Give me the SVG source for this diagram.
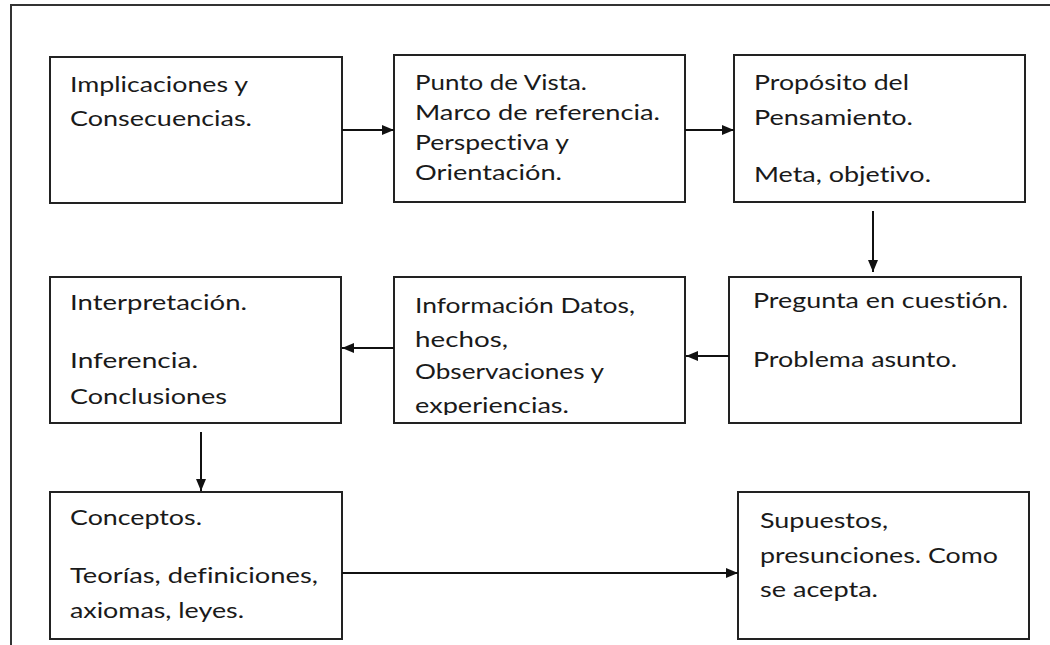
<svg xmlns="http://www.w3.org/2000/svg" width="1050" height="645" viewBox="0 0 1050 645">
<style>
  .box { fill: #ffffff; stroke: #222222; stroke-width: 2; }
  .frame { fill: none; stroke: #333333; stroke-width: 2; }
  .edge { fill: none; stroke: #111111; stroke-width: 2; }
  .t { font-family: Lato, "Liberation Sans", sans-serif; font-size: 20.5px; fill: #1a1a1a; font-variant-ligatures: none; font-feature-settings: "liga" 0, "clig" 0; }
</style>
<defs>
  <marker id="ah" markerUnits="userSpaceOnUse" markerWidth="13" markerHeight="11" refX="12" refY="5" orient="auto">
    <path d="M0,0 L12,5 L0,10 z" fill="#111111"/>
  </marker>
  <clipPath id="clip5"><rect x="394" y="277" width="291" height="138"/></clipPath>
</defs>
<rect width="1050" height="645" fill="#ffffff"/>
<path class="frame" d="M11,650 V5 H1060"/>

<g id="n1">
  <rect class="box" x="50" y="57" width="292" height="146"/>
  <text class="t" x="70" y="92" textLength="178" lengthAdjust="spacingAndGlyphs">Implicaciones y</text>
  <text class="t" x="70" y="126" textLength="182" lengthAdjust="spacingAndGlyphs">Consecuencias.</text>
</g>
<g id="n2">
  <rect class="box" x="394" y="55" width="291" height="147"/>
  <text class="t" x="415" y="90" textLength="172" lengthAdjust="spacingAndGlyphs">Punto de Vista.</text>
  <text class="t" x="415" y="120" textLength="245" lengthAdjust="spacingAndGlyphs">Marco de referencia.</text>
  <text class="t" x="415" y="150" textLength="154" lengthAdjust="spacingAndGlyphs">Perspectiva y</text>
  <text class="t" x="415" y="180" textLength="147" lengthAdjust="spacingAndGlyphs">Orientación.</text>
</g>
<g id="n3">
  <rect class="box" x="734" y="55" width="291" height="147"/>
  <text class="t" x="754" y="90" textLength="155" lengthAdjust="spacingAndGlyphs">Propósito del</text>
  <text class="t" x="754" y="125" textLength="159" lengthAdjust="spacingAndGlyphs">Pensamiento.</text>
  <text class="t" x="754" y="182" textLength="177" lengthAdjust="spacingAndGlyphs">Meta, objetivo.</text>
</g>
<g id="n4">
  <rect class="box" x="50" y="277" width="291" height="146"/>
  <text class="t" x="70" y="310" textLength="177" lengthAdjust="spacingAndGlyphs">Interpretación.</text>
  <text class="t" x="70" y="368" textLength="128" lengthAdjust="spacingAndGlyphs">Inferencia.</text>
  <text class="t" x="70" y="404" textLength="157" lengthAdjust="spacingAndGlyphs">Conclusiones</text>
</g>
<g id="n5">
  <rect class="box" x="394" y="277" width="291" height="146"/>
  <g clip-path="url(#clip5)">
    <text class="t" x="415" y="313" textLength="220" lengthAdjust="spacingAndGlyphs">Información Datos,</text>
    <text class="t" x="415" y="347" textLength="93" lengthAdjust="spacingAndGlyphs">hechos,</text>
    <text class="t" x="415" y="379" textLength="189" lengthAdjust="spacingAndGlyphs">Observaciones y</text>
    <text class="t" x="415" y="413" textLength="154" lengthAdjust="spacingAndGlyphs">experiencias.</text>
  </g>
</g>
<g id="n6">
  <rect class="box" x="729" y="277" width="292" height="146"/>
  <text class="t" x="753" y="308" textLength="255" lengthAdjust="spacingAndGlyphs">Pregunta en cuestión.</text>
  <text class="t" x="753" y="367" textLength="204" lengthAdjust="spacingAndGlyphs">Problema asunto.</text>
</g>
<g id="n7">
  <rect class="box" x="50" y="492" width="292" height="147"/>
  <text class="t" x="70" y="525" textLength="132" lengthAdjust="spacingAndGlyphs">Conceptos.</text>
  <text class="t" x="70" y="583" textLength="248" lengthAdjust="spacingAndGlyphs">Teorías, definiciones,</text>
  <text class="t" x="70" y="618" textLength="174" lengthAdjust="spacingAndGlyphs">axiomas, leyes.</text>
</g>
<g id="n8">
  <rect class="box" x="738" y="492" width="291" height="147"/>
  <text class="t" x="760" y="528" textLength="128" lengthAdjust="spacingAndGlyphs">Supuestos,</text>
  <text class="t" x="760" y="563" textLength="238" lengthAdjust="spacingAndGlyphs">presunciones. Como</text>
  <text class="t" x="760" y="597" textLength="118" lengthAdjust="spacingAndGlyphs">se acepta.</text>
</g>

<g id="connectors">
  <path class="edge" d="M342,130 H394" marker-end="url(#ah)"/>
  <path class="edge" d="M685,130 H734" marker-end="url(#ah)"/>
  <path class="edge" d="M873,211 V272" marker-end="url(#ah)"/>
  <path class="edge" d="M729,356 H686" marker-end="url(#ah)"/>
  <path class="edge" d="M394,348 H342" marker-end="url(#ah)"/>
  <path class="edge" d="M201,432 V491" marker-end="url(#ah)"/>
  <path class="edge" d="M342,573 H738" marker-end="url(#ah)"/>
</g>
</svg>
